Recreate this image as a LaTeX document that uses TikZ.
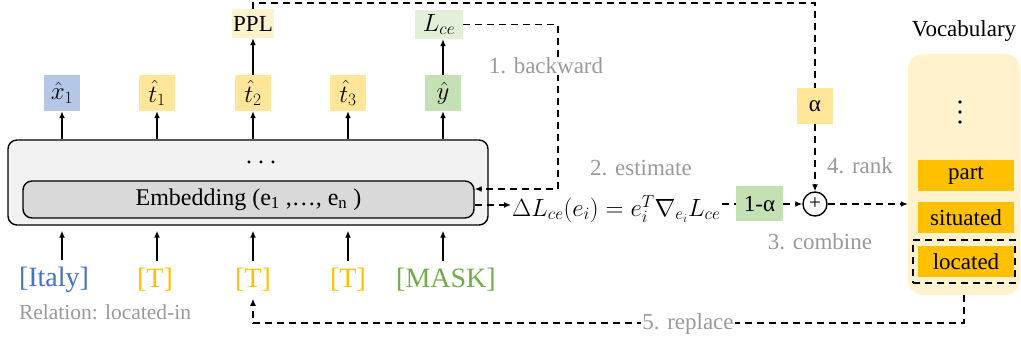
\documentclass[tikz,border=0pt]{standalone}
\usepackage{fontspec}
\setmainfont{Liberation Serif}
\usetikzlibrary{arrows.meta,calc}
\definecolor{bluec}{HTML}{B4C7E7}
\definecolor{yellowc}{HTML}{FFE699}
\definecolor{greenc}{HTML}{C5E0B4}
\definecolor{pplc}{HTML}{FFF2CC}
\definecolor{lcec}{HTML}{E2F0D9}
\definecolor{modelc}{HTML}{F2F2F2}
\definecolor{embc}{HTML}{D9D9D9}
\definecolor{vocc}{HTML}{FFF2CC}
\definecolor{wordc}{HTML}{FFC000}
\definecolor{italyc}{HTML}{4472C4}
\definecolor{tc}{HTML}{FFC000}
\definecolor{maskc}{HTML}{70AD47}
\definecolor{lblgray}{HTML}{9A9A9A}
\tikzset{
  arr/.style={line width=1.5pt, -{Latex[length=7pt,width=6pt]}},
  dsh/.style={line width=1.5pt, dash pattern=on 7pt off 5pt},
  dsharr/.style={dsh, -{Latex[length=7pt,width=6pt]}},
  outbox/.style={minimum width=36pt, minimum height=36pt, inner sep=0pt, font=\fontsize{26}{30}\selectfont},
  lbl/.style={text=lblgray, font=\fontsize{23}{27}\selectfont, fill=white, inner sep=1pt},
  tok/.style={font=\fontsize{28}{32}\selectfont, inner xsep=0pt, inner ysep=7pt},
  word/.style={fill=wordc, minimum width=96pt, minimum height=31pt, inner sep=0pt, font=\fontsize{23}{27}\selectfont},
  txt/.style={font=\fontsize{23}{27}\selectfont, inner sep=0pt},
}
\begin{document}
\begin{tikzpicture}[x=1pt,y=-1pt]
\useasboundingbox (0,0) rectangle (1021,342);
% model
\node[draw, line width=1.4pt, fill=modelc, rounded corners=9pt, minimum width=480pt, minimum height=85pt] (model) at (248,182.5) {};
\node[draw, line width=1.4pt, fill=embc, rounded corners=9pt, minimum width=451pt, minimum height=37pt, font=\fontsize{24}{28}\selectfont] (emb) at (248.5,199.5) {Embedding (e\textsubscript{1} ,…, e\textsubscript{n} )};
\node[font=\fontsize{24}{28}\selectfont, inner sep=0pt] (mdots) at (261,162) {.\hspace{6pt}.\hspace{6pt}.};
% outputs
\node[outbox, fill=bluec] (x1) at (62,93) {$\hat{x}_1$};
\node[outbox, fill=yellowc] (t1) at (157,93) {$\hat{t}_1$};
\node[outbox, fill=yellowc] (t2) at (253,93) {$\hat{t}_2$};
\node[outbox, fill=yellowc] (t3) at (348,93) {$\hat{t}_3$};
\node[outbox, fill=greenc] (yh) at (443,93) {$\hat{y}$};
\foreach \n in {x1,t1,t2,t3,yh} \draw[arr] (\n |- model.north) -- (\n.south);
\node[txt, fill=pplc, minimum width=42pt, minimum height=29pt] (ppl) at (253,23.5) {PPL};
\node[txt, fill=lcec, minimum width=48pt, minimum height=29pt, font=\fontsize{25}{29}\selectfont] (lce) at (439,24.5) {$L_{ce}$};
\draw[arr] (t2.north) -- (ppl.south);
\draw[arr] (yh.north) -- (yh.north |- lce.south);
% inputs
\node[tok, text=italyc] (tk0) at (54,280) {[Italy]};
\node[tok, text=tc] (tk1) at (155,280) {[T]};
\node[tok, text=tc] (tk2) at (253,280) {[T]};
\node[tok, text=tc] (tk3) at (348,280) {[T]};
\node[tok, text=maskc] (tk4) at (446,280) {[MASK]};
\draw[arr, shorten >=5pt] (x1 |- tk0.north) -- (x1 |- model.south);
\draw[arr, shorten >=5pt] (t1 |- tk1.north) -- (t1 |- model.south);
\draw[arr, shorten >=5pt] (t2 |- tk2.north) -- (t2 |- model.south);
\draw[arr, shorten >=5pt] (t3 |- tk3.north) -- (t3 |- model.south);
\draw[arr, shorten >=5pt] (yh |- tk4.north) -- (yh |- model.south);
\node[txt, text=lblgray, font=\fontsize{21.5}{26}\selectfont] (rel) at (105,312) {Relation: located-in};
% alpha and plus
\node[outbox, fill=yellowc, font=\fontsize{23}{27}\selectfont] (alpha) at (815,106) {α};
\node[draw, circle, line width=1.4pt, minimum size=24pt, inner sep=0pt, font=\fontsize{21}{21}\selectfont] (plus) at (815,204) {+};
\coordinate (tr) at (815,3);
\draw[dsh] (ppl.north) |- (tr) -- (alpha.north);
\draw[dsharr] (alpha.south) -- (plus.north);
% backward
\coordinate (bk) at (558,189);
\draw[dsharr] (lce.east) -| (bk) -- (emb.east |- bk);
\node[lbl] (lb1) at (546,66) {1. backward};
% estimate
\node[lbl] (lb2) at (641,168) {2. estimate};
\coordinate (fa) at (511,205);
\draw[dsharr] (emb.east |- fa) -- (fa);
\node[anchor=west, inner sep=1pt, font=\fontsize{24}{28}\selectfont] (form) at (511,209) {$\Delta L_{ce}(e_i) = e_i^T \nabla_{e_i} L_{ce}$};
\node[txt, fill=greenc, minimum width=47pt, minimum height=35pt] (om) at (759.5,204) {1-α};
\draw[dsh] (form.east |- om.west) -- (om.west);
\draw[dsharr] (om.east) -- (plus.west);
\node[lbl] (lb3) at (820,242) {3. combine};
\node[lbl] (lb4) at (860,166) {4. rank};
% vocabulary
\node[txt] (vt) at (964,31) {Vocabulary};
\node[fill=vocc, rounded corners=15pt, minimum width=112pt, minimum height=241pt, inner sep=0pt] (vocab) at (964,174.5) {};
\draw[dsharr] (plus.east) -- (plus.east -| vocab.west);
\fill (960,102) circle (1.8pt);
\fill (960,112) circle (1.8pt);
\fill (960,122) circle (1.8pt);
\node[word] (w1) at (966,175.5) {part};
\node[word] (w2) at (966,218) {situated};
\node[word] (w3) at (966,261.5) {located};
\node[draw, dsh, minimum width=102pt, minimum height=43pt, inner sep=0pt] (sel) at (964,261.5) {};
% replace
\coordinate (rc) at (964,323);
\draw[dsharr] (vocab.south) -- (rc) -| (tk2.south);
\node[lbl] (lb5) at (688,324) {5. replace};
\end{tikzpicture}
\end{document}
